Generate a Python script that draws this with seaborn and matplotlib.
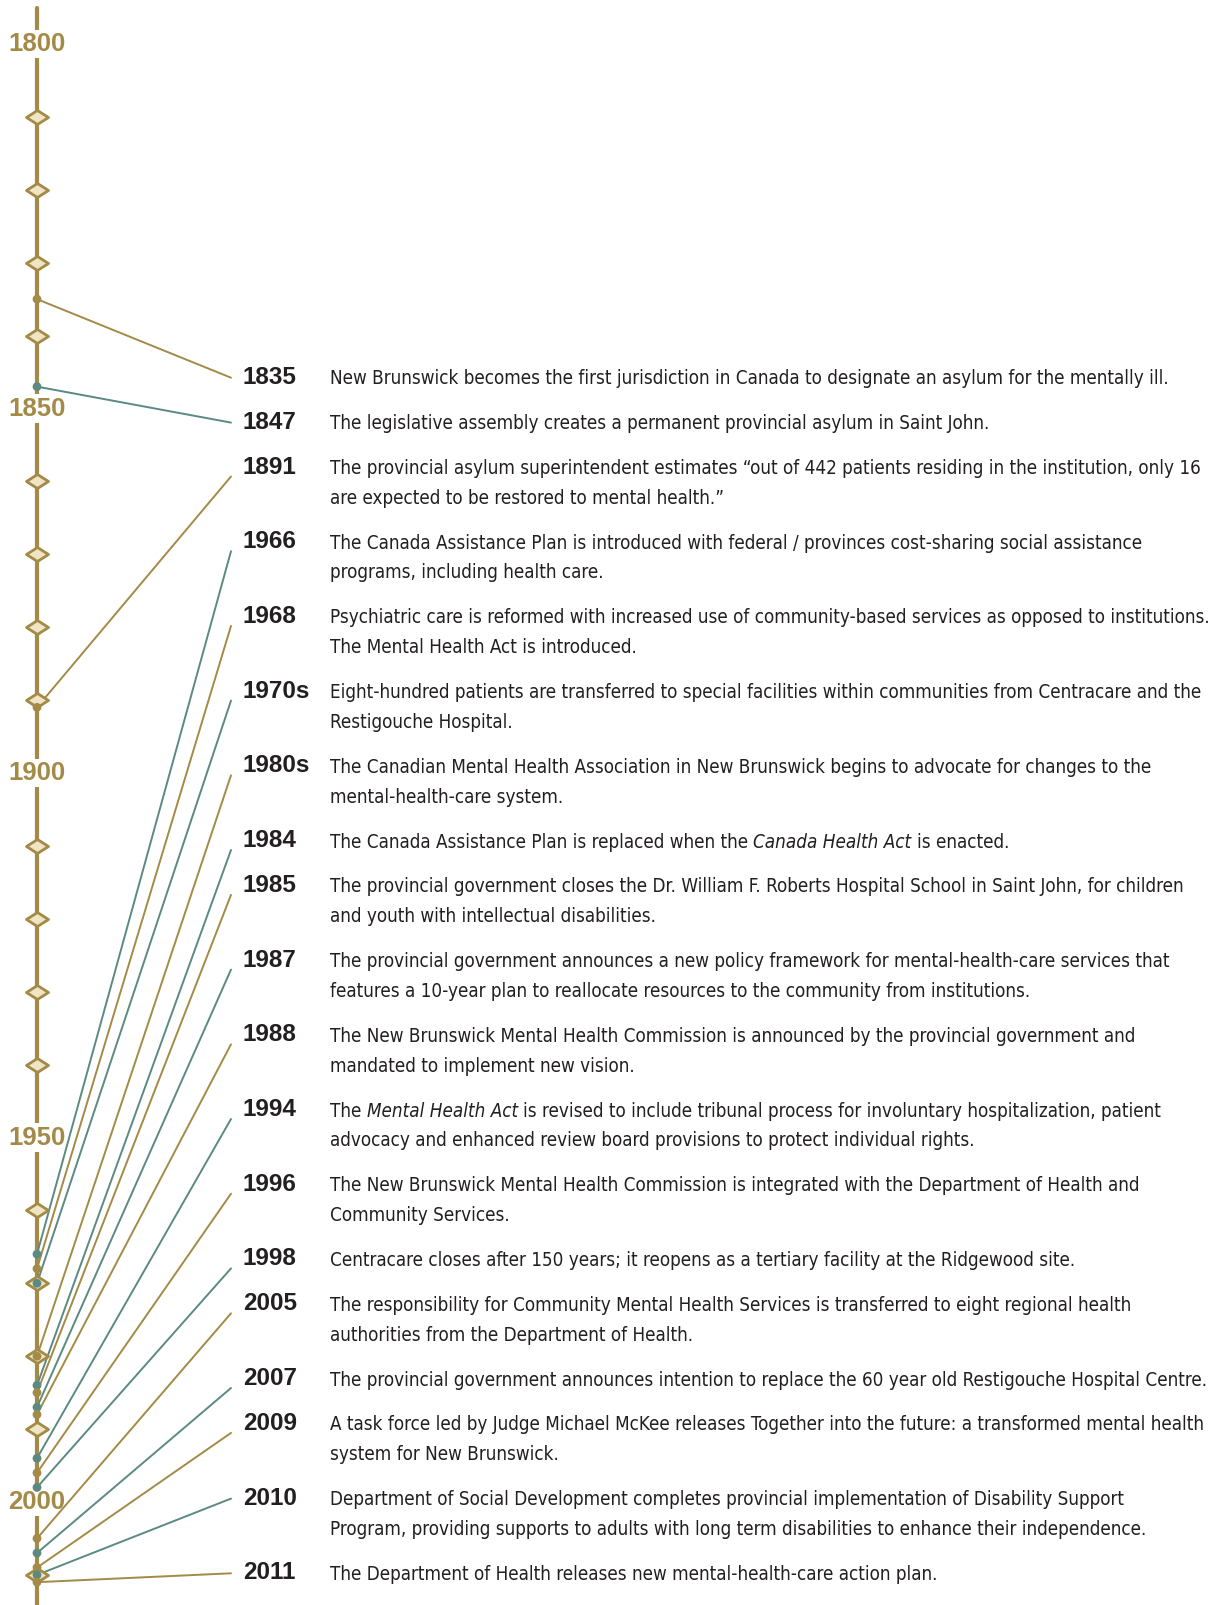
import matplotlib
matplotlib.use("Agg")
import matplotlib.pyplot as plt
from matplotlib import font_manager
from matplotlib.path import Path
import pandas as pd
import seaborn as sns

# colours
GOLD = "#a38a46"
TEAL = "#5b8a82"
CREAM = "#efe5c5"
INK = "#231f20"

# timeline data
era_years = [1800, 1850, 1900, 1950, 2000]
decade_marks = [1810, 1820, 1830, 1840, 1860, 1870, 1880, 1890, 1910, 1920, 1930, 1940,
                1960, 1970, 1980, 1990, 2010]

event_labels = ["1835", "1847", "1891", "1966", "1968", "1970s", "1980s", "1984", "1985", "1987",
                "1988", "1994", "1996", "1998", "2005", "2007", "2009", "2010", "2011"]
event_years = [1835, 1847, 1891, 1966, 1968, 1970, 1980, 1984, 1985, 1987,
               1988, 1994, 1996, 1998, 2005, 2007, 2009, 2010, 2011]
event_text = [
    ["New Brunswick becomes the first jurisdiction in Canada to designate an asylum for the mentally ill."],
    ["The legislative assembly creates a permanent provincial asylum in Saint John."],
    ["The provincial asylum superintendent estimates \u201cout of 442 patients residing in the institution, only 16",
     "are expected to be restored to mental health.\u201d"],
    ["The Canada Assistance Plan is introduced with federal / provinces cost-sharing social assistance",
     "programs, including health care."],
    ["Psychiatric care is reformed with increased use of community-based services as opposed to institutions.",
     "The Mental Health Act is introduced."],
    ["Eight-hundred patients are transferred to special facilities within communities from Centracare and the",
     "Restigouche Hospital."],
    ["The Canadian Mental Health Association in New Brunswick begins to advocate for changes to the",
     "mental-health-care system."],
    ["The Canada Assistance Plan is replaced when the *Canada Health Act* is enacted."],
    ["The provincial government closes the Dr. William F. Roberts Hospital School in Saint John, for children",
     "and youth with intellectual disabilities."],
    ["The provincial government announces a new policy framework for mental-health-care services that",
     "features a 10-year plan to reallocate resources to the community from institutions."],
    ["The New Brunswick Mental Health Commission is announced by the provincial government and",
     "mandated to implement new vision."],
    ["The *Mental Health Act* is revised to include tribunal process for involuntary hospitalization, patient",
     "advocacy and enhanced review board provisions to protect individual rights."],
    ["The New Brunswick Mental Health Commission is integrated with the Department of Health and",
     "Community Services."],
    ["Centracare closes after 150 years; it reopens as a tertiary facility at the Ridgewood site."],
    ["The responsibility for Community Mental Health Services is transferred to eight regional health",
     "authorities from the Department of Health."],
    ["The provincial government announces intention to replace the 60 year old Restigouche Hospital Centre."],
    ["A task force led by Judge Michael McKee releases Together into the future: a transformed mental health",
     "system for New Brunswick."],
    ["Department of Social Development completes provincial implementation of Disability Support",
     "Program, providing supports to adults with long term disabilities to enhance their independence."],
    ["The Department of Health releases new mental-health-care action plan."],
]

sns.set_theme(style="white")
installed = {f.name for f in font_manager.fontManager.ttflist}
if "Liberation Sans Narrow" in installed:
    BODY = dict(family=["Liberation Sans Narrow", "DejaVu Sans"], size=16.5)
    SPACE = 3.7
else:
    # condensed DejaVu as the narrow face
    BODY = dict(family=["DejaVu Sans"], size=13.5, stretch="condensed")
    SPACE = 3.7
plt.rcParams["font.family"] = ["Liberation Sans", "DejaVu Sans"]

W, H = 1212, 1605
PX_TOP, PX_PER_YEAR = 44, 7.29   # 1800 sits 44 px from the top


def px_to_year(py):
    return 1800 + (py - PX_TOP) / PX_PER_YEAR


fig = plt.figure(figsize=(W / 100, H / 100), dpi=100)
ax = fig.add_axes([0, 0, 1, 1])

LINE_X = 37
END_X = 231
LABEL_X = 243
TEXT_X = 330
LINE_H = 29.8
GAP = 15.1

tones = ["gold" if i % 2 == 0 else "teal" for i in range(len(event_years))]
palette = {"gold": GOLD, "teal": TEAL}

# row layout for the text column
row_px = []
py = 376.7
for lines in event_text:
    row_px.append(py)
    py += len(lines) * LINE_H + GAP

# main vertical rule
ax.axvline(LINE_X, ymin=0, ymax=1 - 8 / H, color=GOLD, lw=3, zorder=1)

for y in era_years:
    ax.text(LINE_X, y, str(y), ha="center", va="center", color=GOLD, fontsize=18.5,
            fontweight="bold", zorder=2,
            bbox=dict(boxstyle="square,pad=0.08", fc="white", ec="none"))

# connectors
rows = []
for i, (lab, yr) in enumerate(zip(event_labels, event_years)):
    off = 10 if abs(row_px[i] - (PX_TOP + (yr - 1800) * PX_PER_YEAR)) > 120 else 1
    rows.append(dict(event=lab, x=LINE_X, y=yr, tone=tones[i]))
    rows.append(dict(event=lab, x=END_X, y=px_to_year(row_px[i] + off), tone=tones[i]))
conn = pd.DataFrame(rows)
sns.lineplot(data=conn, x="x", y="y", units="event", estimator=None, hue="tone",
             palette=palette, sort=False, legend=False, linewidth=1.4, ax=ax, zorder=3)

# decade diamonds
diamond = Path([(-1, 0), (0, 0.64), (1, 0), (0, -0.64), (-1, 0)],
               [Path.MOVETO, Path.LINETO, Path.LINETO, Path.LINETO, Path.CLOSEPOLY])
sns.scatterplot(x=[LINE_X] * len(decade_marks), y=decade_marks, marker=diamond, s=250,
                color=CREAM, edgecolor=GOLD, linewidth=2, ax=ax, zorder=4, legend=False)

# event dots
dots = pd.DataFrame(dict(x=[LINE_X] * len(event_years), y=event_years, tone=tones))
sns.scatterplot(data=dots, x="x", y="y", hue="tone", palette=palette, s=40,
                edgecolor="none", ax=ax, zorder=5, legend=False)

# text column
for i, lab in enumerate(event_labels):
    base = px_to_year(row_px[i] + 7)
    ax.text(LABEL_X, base, lab, ha="left", va="baseline", color=INK, fontsize=17.5,
            fontweight="bold")
    for j, line in enumerate(event_text[i]):
        yb = px_to_year(row_px[i] + 7.5 + j * LINE_H)
        parts = [p.strip() for p in line.split("*")]
        prev = ax.text(TEXT_X, yb, parts[0], ha="left", va="baseline", color=INK, **BODY)
        for k, part in enumerate(parts[1:], start=1):
            prev = ax.annotate(part, xy=(1, 0), xycoords=prev, xytext=(SPACE, 0),
                               textcoords="offset points", ha="left", va="bottom", color=INK,
                               style="italic" if k % 2 == 1 else "normal", **BODY)

ax.set_xlim(0, W)
ax.set_ylim(px_to_year(H), px_to_year(0))
ax.axis("off")

fig.savefig("out.png", dpi=100, facecolor="white")
